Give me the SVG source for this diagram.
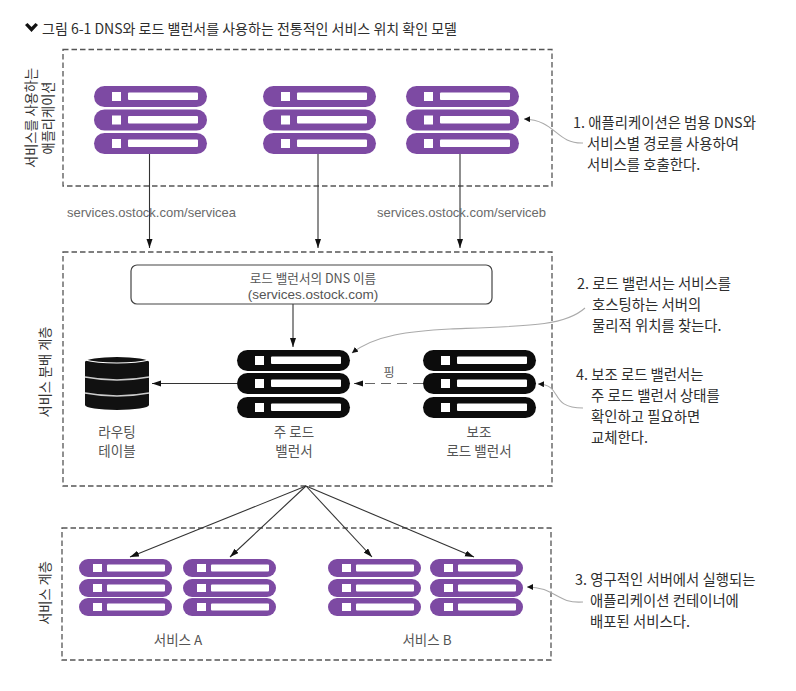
<svg xmlns="http://www.w3.org/2000/svg" width="796" height="691" viewBox="0 0 796 691">
<style>
text{font-family:"Noto Sans CJK KR","Noto Sans",sans-serif;font-size:14.4px;fill:#2e2e2e}
.ttl{font-size:14px}
.side{font-size:13.2px;fill:#333}
.lat{font-family:"Liberation Sans",Arial,sans-serif;font-size:13px;fill:#6a6a6a}
.mid{text-anchor:middle}
.lab{fill:#555;font-size:13.500px}
.panel{fill:none;stroke:#555;stroke-width:1.3;stroke-dasharray:5.500 3}
.conn{fill:none;stroke:#333;stroke-width:1.100;marker-end:url(#ah)}
.dash{fill:none;stroke:#666;stroke-width:1.100;stroke-dasharray:10 6;marker-end:url(#ah)}
.note{fill:none;stroke:#aaa;stroke-width:1.100;marker-end:url(#an)}
.pur{fill:#7d4aa3}
.blk{fill:#0c0c0c}
.wh{fill:#fff}
</style>
<defs>
<marker id="ah" markerUnits="userSpaceOnUse" markerWidth="10" markerHeight="8" refX="9" refY="3" orient="auto"><path d="M0 0L9 3L0 6Z" fill="#111"/></marker>
<marker id="an" markerUnits="userSpaceOnUse" markerWidth="8" markerHeight="8" refX="6" refY="3" orient="auto"><path d="M0 0L6 3L0 6Z" fill="#111"/></marker>
<g id="srv">
<rect x="0" y="0" width="113" height="21" rx="10.500"/>
<rect x="18" y="6" width="9" height="9" class="wh"/>
<rect x="34" y="6.500" width="70" height="7.500" rx="1" class="wh"/>
</g>
<g id="srvS">
<rect x="0" y="0" width="93" height="18" rx="9"/>
<rect x="14" y="5" width="9" height="8" class="wh"/>
<rect x="28" y="5.500" width="58" height="7" rx="1" class="wh"/>
</g>
</defs>
<rect width="796" height="691" fill="#fff"/>
<g id="title">
<path d="M25 25l2.500-2 4 4 4-4 2.500 2-6.500 7z" fill="#111"/>
<text class="ttl" x="42" y="34" textLength="415">그림 6-1 DNS와 로드 밸런서를 사용하는 전통적인 서비스 위치 확인 모델</text>
</g>
<g id="panels">
<rect class="panel" x="63" y="49.500" width="489" height="136.500"/>
<rect class="panel" x="63" y="252" width="489" height="234"/>
<rect class="panel" x="62" y="528" width="489" height="132"/>
<text class="mid side" transform="translate(36 118) rotate(-90)">서비스를 사용하는</text>
<text class="mid side" transform="translate(53 118) rotate(-90)">애플리케이션</text>
<text class="mid side" transform="translate(50 372) rotate(-90)">서비스 분배 계층</text>
<text class="mid side" transform="translate(50 593) rotate(-90)">서비스 계층</text>
</g>
<g id="connectors">
<path class="conn" d="M149.500 154V248"/>
<path class="conn" d="M318 154V248"/>
<path class="conn" d="M460 154V248"/>
<path class="conn" d="M293 304V347"/>
<path class="conn" d="M237 383.500H152"/>
<path class="dash" d="M423 383.500H354"/>
<path class="conn" d="M306 486L130 557"/>
<path class="conn" d="M306 486L230 557"/>
<path class="conn" d="M306 486L372 557"/>
<path class="conn" d="M306 486L474 557"/>
<path class="note" d="M583 143C556 144 556 120 524 119"/>
<path class="note" d="M585 308C565 326 530 326 450 329C410 331 375 335 352 353"/>
<path class="note" d="M583 408C548 408 564 385 538 384"/>
<path class="note" d="M583 602C556 604 556 587 527 587"/>
</g>
<g id="client-1" class="pur"><use href="#srv" x="94" y="86"/><use href="#srv" x="94" y="109.500"/><use href="#srv" x="94" y="133"/></g>
<g id="client-2" class="pur"><use href="#srv" x="263" y="86"/><use href="#srv" x="263" y="109.500"/><use href="#srv" x="263" y="133"/></g>
<g id="client-3" class="pur"><use href="#srv" x="406" y="86"/><use href="#srv" x="406" y="109.500"/><use href="#srv" x="406" y="133"/></g>
<g id="lb-dns">
<rect x="131" y="265" width="361" height="39" rx="6" fill="#fff" stroke="#444" stroke-width="1.200"/>
<text class="mid lab" x="313" y="283" style="font-size:12.600px">로드 밸런서의 DNS 이름</text>
<text class="mid lat" x="313" y="299" style="font-size:13.500px;fill:#555">(services.ostock.com)</text>
</g>
<g id="routing-table">
<path d="M85 362A32 5 0 0 1 149 362V405A32 5 0 0 1 85 405Z" fill="#111"/>
<path d="M85 360C100 364 134 364 149 360" fill="none" stroke="#fff" stroke-width="1.200"/>
<path d="M85 377Q117 383 149 377M85 393Q117 399 149 393" fill="none" stroke="#ccc" stroke-width="1.600"/>
<text class="mid lab" x="117" y="437">라우팅</text>
<text class="mid lab" x="117" y="456">테이블</text>
</g>
<g id="primary-lb" class="blk"><use href="#srv" x="237" y="350"/><use href="#srv" x="237" y="373"/><use href="#srv" x="237" y="397"/>
<text class="mid lab" x="294" y="437">주 로드</text>
<text class="mid lab" x="294" y="456">밸런서</text>
</g>
<g id="secondary-lb" class="blk"><use href="#srv" x="423" y="350"/><use href="#srv" x="423" y="373"/><use href="#srv" x="423" y="397"/>
<text class="mid lab" x="479" y="437">보조</text>
<text class="mid lab" x="479" y="456">로드 밸런서</text>
</g>
<g id="ping-label"><text class="mid lab" x="389" y="377" style="font-size:12px">핑</text></g>
<g id="url-labels">
<text class="lat" x="67" y="217">services.ostock.com/servicea</text>
<text class="lat" x="377" y="217">services.ostock.com/serviceb</text>
</g>
<g id="service-a1" class="pur"><use href="#srvS" x="79" y="559"/><use href="#srvS" x="79" y="579"/><use href="#srvS" x="79" y="598"/></g>
<g id="service-a2" class="pur"><use href="#srvS" x="183" y="559"/><use href="#srvS" x="183" y="579"/><use href="#srvS" x="183" y="598"/></g>
<g id="service-b1" class="pur"><use href="#srvS" x="328" y="559"/><use href="#srvS" x="328" y="579"/><use href="#srvS" x="328" y="598"/></g>
<g id="service-b2" class="pur"><use href="#srvS" x="430" y="559"/><use href="#srvS" x="430" y="579"/><use href="#srvS" x="430" y="598"/></g>
<g id="service-labels">
<text class="mid lab" x="178" y="645">서비스 A</text>
<text class="mid lab" x="427" y="645">서비스 B</text>
</g>
<g id="note-1">
<text x="573" y="128">1. 애플리케이션은 범용 DNS와</text>
<text x="587" y="149">서비스별 경로를 사용하여</text>
<text x="587" y="170">서비스를 호출한다.</text>
</g>
<g id="note-2">
<text x="577" y="289">2. 로드 밸런서는 서비스를</text>
<text x="592" y="310">호스팅하는 서버의</text>
<text x="592" y="331">물리적 위치를 찾는다.</text>
</g>
<g id="note-4">
<text x="576" y="380">4. 보조 로드 밸런서는</text>
<text x="591" y="401">주 로드 밸런서 상태를</text>
<text x="591" y="422">확인하고 필요하면</text>
<text x="591" y="443">교체한다.</text>
</g>
<g id="note-3">
<text x="575" y="585">3. 영구적인 서버에서 실행되는</text>
<text x="590" y="606">애플리케이션 컨테이너에</text>
<text x="590" y="627">배포된 서비스다.</text>
</g>
</svg>
